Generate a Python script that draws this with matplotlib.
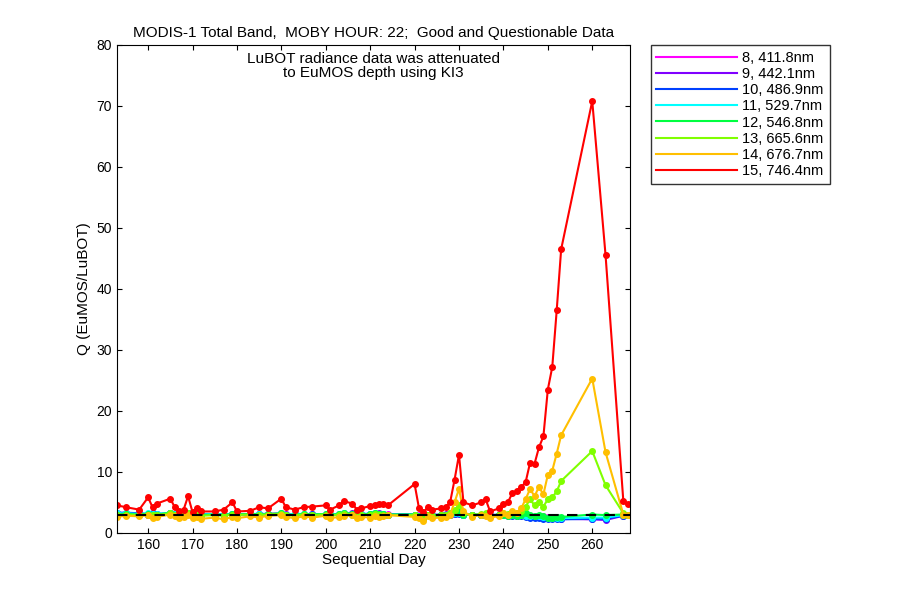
import numpy as np
import matplotlib.pyplot as plt

plt.rcParams['font.family'] = 'Liberation Sans'

days = [153,155,158,160,161,162,165,166,167,168,169,170,171,172,175,177,179,180,183,185,
        187,190,191,193,195,197,200,201,203,204,206,207,208,210,211,212,213,214,220,221,
        222,223,224,226,227,228,229,230,231,233,235,236,237,239,240,241,242,243,244,245,
        246,247,248,249,250,251,252,253,260,263,267,268]

b8 = [3.1,3.0,3.2,3.0,3.1,2.9,3.3,3.0,2.9,3.1, 3.2,3.0,3.1,2.9,3.0,2.9,3.1,3.0,3.1,3.0,
      3.1,3.2,3.0,3.0,3.1,3.0,3.1,2.9,3.1,3.2, 3.1,3.0,3.0,3.1,3.2,3.1,3.0,3.1,3.0,2.9,
      2.6,3.0,2.9,3.0,3.0,3.1,3.1,3.3,3.0,3.0, 3.0,3.1,2.9,3.0,3.0,3.0,2.9,2.9,3.0,2.9,
      2.8,2.8,2.7,2.7,2.6,2.6,2.6,2.5,2.4,2.4, 2.9,3.0]
b9 = [3.2,3.1,3.1,3.0,3.2,3.0,3.2,3.1,3.0,3.0, 3.3,3.0,3.0,3.0,3.1,3.0,3.0,3.1,3.0,3.1,
      3.0,3.1,3.1,3.0,3.0,3.1,3.0,3.0,3.0,3.1, 3.2,3.0,3.1,3.0,3.1,3.2,3.1,3.0,3.0,2.8,
      2.5,2.9,2.9,3.0,3.1,3.0,3.2,3.2,3.0,2.9, 3.0,3.0,2.9,2.9,3.0,2.9,2.9,2.8,2.9,2.8,
      2.7,2.6,2.6,2.5,2.5,2.4,2.4,2.3,2.2,2.1, 2.8,3.0]
b10 = [3.3,3.3,3.2,3.1,3.2,3.1,3.2,3.1,3.0,3.1, 3.2,3.1,3.1,3.0,3.1,3.0,3.1,3.1,3.0,3.1,
       3.1,3.1,3.0,3.1,3.0,3.1,3.0,3.1,3.0,3.1, 3.1,3.0,3.1,3.1,3.1,3.1,3.1,3.0,3.0,2.8,
       2.4,2.9,2.8,2.9,3.0,3.0,3.1,3.1,3.0,2.9, 2.9,3.0,2.8,2.9,2.9,2.8,2.8,2.7,2.8,2.6,
       2.5,2.5,2.4,2.3,2.3,2.3,2.2,2.2,2.3,2.3, 2.8,3.0]
b11 = [3.2,3.2,3.1,3.2,3.1,3.1,3.3,3.1,3.0,3.2, 3.2,3.0,3.1,3.0,3.1,3.0,3.1,3.0,3.1,3.1,
       3.0,3.2,3.0,3.1,3.1,3.0,3.1,3.0,3.1,3.2, 3.1,3.0,3.1,3.1,3.2,3.1,3.1,3.0,3.0,2.8,
       2.5,3.0,2.9,3.0,3.0,3.1,3.2,3.3,3.0,3.0, 3.0,3.0,2.9,3.0,3.0,2.9,3.0,2.9,3.0,2.8,
       2.8,2.7,2.7,2.6,2.5,2.5,2.5,2.4,2.5,2.5, 2.9,3.0]
b12 = [3.0,3.1,3.0,3.1,3.0,3.0,3.3,3.0,2.9,3.1, 3.3,2.9,3.0,2.9,3.0,2.9,3.1,3.0,3.1,3.0,
       3.1,3.2,3.0,2.9,3.1,3.0,3.1,2.9,3.1,3.3, 3.1,2.9,3.0,3.1,3.2,3.1,3.1,3.0,3.0,2.7,
       2.5,3.0,2.8,3.0,3.0,3.2,3.6,3.5,3.0,2.9, 3.0,3.1,2.8,2.9,3.0,2.8,2.9,2.8,3.0,3.2,
       3.0,2.8,2.9,2.7,2.5,2.4,2.6,2.6,3.0,2.9, 3.0,3.0]
b13 = [2.9,3.0,2.9,3.0,2.9,2.9,3.2,2.9,2.8,3.0, 3.2,2.8,2.9,2.8,2.9,2.8,3.0,2.9,3.0,2.9,
       3.0,3.1,2.9,2.8,3.0,2.9,3.0,2.8,3.0,3.1, 3.0,2.8,2.9,3.0,3.1,3.0,3.0,2.9,2.9,2.6,
       2.3,2.9,2.7,2.9,2.9,3.2,3.8,4.5,3.2,2.9, 3.1,3.2,2.7,3.0,3.3,3.1,3.4,3.2,3.6,4.3,
       5.5,4.5,5.0,4.3,5.5,5.8,6.8,8.5,13.4,7.8, 3.2,3.0]
b14 = [2.6,2.8,2.7,2.9,2.5,2.6,3.0,2.7,2.4,2.6, 3.0,2.4,2.6,2.3,2.5,2.2,2.6,2.4,2.7,2.5,
       2.8,2.9,2.6,2.4,2.7,2.5,2.8,2.4,2.6,2.7, 2.9,2.5,2.6,2.5,2.8,2.6,2.7,2.9,2.6,2.5,
       2.0,2.8,2.4,2.5,2.6,3.0,5.0,7.2,3.5,2.6, 3.0,2.8,2.4,2.8,3.2,3.0,3.5,3.3,4.0,5.5,
       7.2,6.0,7.5,6.3,9.5,10.2,13.0,16.0,25.3,13.2, 3.0,3.0]
b15 = [4.5,4.2,3.8,5.8,4.2,4.8,5.6,4.2,3.5,3.8, 6.0,3.4,4.0,3.5,3.5,3.8,5.0,3.5,3.6,4.2,
       4.0,5.6,4.2,3.8,4.2,4.3,4.5,3.8,4.5,5.2, 4.8,3.8,4.0,4.4,4.5,4.8,4.7,4.5,8.0,4.0,
       3.4,4.2,3.8,4.0,4.2,5.0,8.7,12.8,5.0,4.5, 5.0,5.5,3.5,4.0,4.8,5.0,6.5,6.8,7.5,8.3,
       11.5,11.3,14.0,15.8,23.5,27.2,36.5,46.5,70.8,45.5, 5.2,4.8]

series = [b8, b9, b10, b11, b12, b13, b14, b15]
labels = ['8, 411.8nm', '9, 442.1nm', '10, 486.9nm', '11, 529.7nm',
          '12, 546.8nm', '13, 665.6nm', '14, 676.7nm', '15, 746.4nm']
colors = ['#FF00FF', '#8000FF', '#0040FF', '#00FFFF',
          '#00FF40', '#80FF00', '#FFBF00', '#FF0000']

fig = plt.figure(figsize=(9, 6), dpi=100)
ax = fig.add_axes([0.13, 0.112, 0.57, 0.813])

for vals, lab, col in zip(series, labels, colors):
    ax.plot(days, vals, color=col, lw=1.5, marker='o', ms=4, label=lab)

ax.axhline(3.0, color='k', ls='--', lw=1.5, dashes=(5, 4))

ax.set_xlim(153, 268.5)
ax.set_ylim(0, 80)
ax.set_xticks(range(160, 261, 10))
ax.set_yticks(range(0, 81, 10))
ax.tick_params(direction='in', top=True, right=True, labelsize=10)
ax.set_xlabel('Sequential Day', fontsize=11, labelpad=1)
ax.set_ylabel('Q (EuMOS/LuBOT)', fontsize=11)
ax.set_title('MODIS-1 Total Band,  MOBY HOUR: 22;  Good and Questionable Data',
             fontsize=11, pad=6)
ax.text(0.5, 0.985, 'LuBOT radiance data was attenuated\nto EuMOS depth using KI3',
        transform=ax.transAxes, ha='center', va='top', fontsize=11, linespacing=1.0)

ax.legend(loc='upper left', bbox_to_anchor=(1.04, 1.0), frameon=True, fancybox=False,
          edgecolor='k', fontsize=10.5, handlelength=5.5, borderaxespad=0,
          labelspacing=0.15, handletextpad=0.4, markerfirst=True)
leg = ax.get_legend()
for h in leg.legend_handles:
    h.set_marker('')

fig.savefig('out.png', dpi=100)
